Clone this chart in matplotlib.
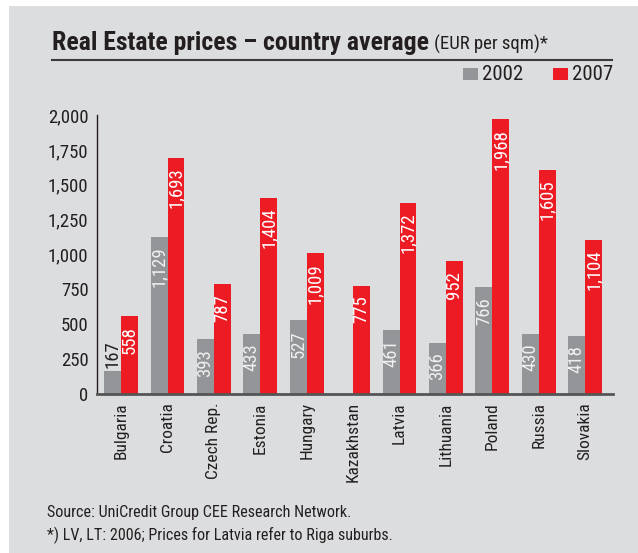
import matplotlib
matplotlib.use("Agg")
import matplotlib.pyplot as plt
import numpy as np
from matplotlib.patches import Rectangle
from matplotlib.lines import Line2D

countries = ["Bulgaria", "Croatia", "Czech Rep.", "Estonia", "Hungary", "Kazakhstan",
             "Latvia", "Lithuania", "Poland", "Russia", "Slovakia"]
v2002 = [167, 1129, 393, 433, 527, None, 461, 366, 766, 430, 418]
v2007 = [558, 1693, 787, 1404, 1009, 775, 1372, 952, 1968, 1605, 1104]
yticks = [0, 250, 500, 750, 1000, 1250, 1500, 1750, 2000]
series_names = ["2002", "2007"]

FONT = ["Roboto Condensed", "DejaVu Sans"]
plt.rcParams["font.family"] = FONT

GRAY = "#939598"
RED = "#ED1C24"
BG = "#DCDDDF"
TXT = "#231F20"

W, H = 638, 553
fig = plt.figure(figsize=(W / 100, H / 100), dpi=100)
fig.patch.set_facecolor("white")
fig.add_artist(Rectangle((9 / W, 0), 1 - 9 / W, 1 - 6 / H, transform=fig.transFigure,
                         facecolor=BG, edgecolor="none", zorder=-10))

ax = fig.add_axes([97 / W, 1 - 394 / H, (613 - 97) / W, (394 - 115) / H])
ax.set_facecolor("none")

x = np.arange(len(countries))
bw = 0.365
for i, (a, b) in enumerate(zip(v2002, v2007)):
    if a is not None:
        ax.bar(x[i] - bw / 2, a, bw, color=GRAY, zorder=2)
    ax.bar(x[i] + bw / 2, b, bw, color=RED, zorder=2)

def fmt(v):
    return f"{v:,}"

LBL = 13.5
for i, (a, b) in enumerate(zip(v2002, v2007)):
    if a is not None:
        if a < 300:
            ax.annotate(fmt(a), (x[i] - bw / 2, a), xytext=(0, 2), textcoords="offset points",
                        rotation=90, ha="center", va="bottom", color=TXT, fontsize=LBL, zorder=3)
        else:
            ax.annotate(fmt(a), (x[i] - bw / 2, a), xytext=(0, -7), textcoords="offset points",
                        rotation=90, ha="center", va="top", color="#F0F0F0", fontsize=LBL, zorder=3)
    ax.annotate(fmt(b), (x[i] + bw / 2, b), xytext=(0, -7), textcoords="offset points",
                rotation=90, ha="center", va="top", color="white", fontsize=LBL, zorder=3)

ax.set_xlim(-0.52, 10.6)
ax.set_ylim(0, 2000)
ax.set_yticks(yticks)
ax.set_yticklabels([fmt(t) for t in yticks], fontsize=13.5, color=TXT)
ax.set_xticks(x)
ax.set_xticklabels(countries, rotation=90, fontsize=12.5, color=TXT)
ax.tick_params(axis="both", length=0, pad=6)
for s in ["top", "right"]:
    ax.spines[s].set_visible(False)
ax.spines["left"].set_color(TXT)
ax.spines["left"].set_linewidth(1.0)
ax.spines["bottom"].set_color("#555555")
ax.spines["bottom"].set_linewidth(2.0)

# Title
t1 = fig.text(52 / W, 1 - 50 / H, "Real Estate prices – country average", fontsize=18.5,
              fontweight="bold", color=TXT, ha="left", va="baseline")
fig.canvas.draw()
bb = t1.get_window_extent(fig.canvas.get_renderer())
fig.text((bb.x1 + 5) / W, 1 - 50 / H, "(EUR per sqm)*", fontsize=13.5, color=TXT,
         ha="left", va="baseline")
fig.add_artist(Line2D([52 / W, 612 / W], [1 - 60 / H, 1 - 60 / H], transform=fig.transFigure,
                      color="#3a3a3a", linewidth=1.5))

# Legend
for (x0, c, name) in [(463, GRAY, series_names[0]), (553, RED, series_names[1])]:
    fig.add_artist(Rectangle((x0 / W, 1 - 80 / H), 15 / W, 12 / H, transform=fig.transFigure,
                             facecolor=c, edgecolor="none"))
    fig.text((x0 + 19) / W, 1 - 80 / H, name, fontsize=15, color=TXT, ha="left", va="baseline")

# Footer
fig.text(47 / W, 1 - 517 / H, "Source: UniCredit Group CEE Research Network.", fontsize=11.6,
         color=TXT, ha="left", va="baseline")
fig.text(47 / W, 1 - 540 / H, "*) LV, LT: 2006; Prices for Latvia refer to Riga suburbs.",
         fontsize=11.6, color=TXT, ha="left", va="baseline")

fig.savefig("out.png", dpi=100, facecolor=fig.get_facecolor())
